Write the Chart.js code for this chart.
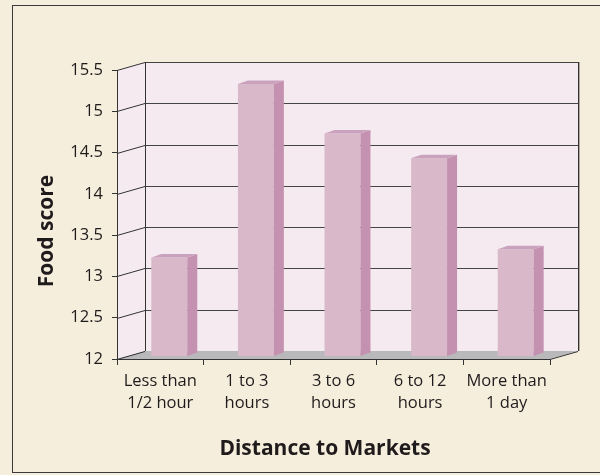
<!DOCTYPE html>
<html>
<head>
<meta charset="utf-8">
<script src="https://cdn.jsdelivr.net/npm/chart.js@4.4.1/dist/chart.umd.min.js"></script>
<style>
  body { margin: 0; background: #ffffff; }
  #wrap { width: 600px; height: 475px; }
</style>
</head>
<body>
<div id="wrap"><canvas id="chart" width="600" height="475"></canvas></div>
<script>
const categories = [
    ['Less than', '1/2 hour'],
    ['1 to 3', 'hours'],
    ['3 to 6', 'hours'],
    ['6 to 12', 'hours'],
    ['More than', '1 day']
];
const foodScores = [13.2, 15.3, 14.7, 14.4, 13.3];
const yMin = 12;
const yMax = 15.5;
const yStep = 0.5;

const xTitle = 'Distance to Markets';
const yTitle = 'Food score';

// depth of the 3d box and of the bars
const wallDx = 28, wallDy = -8;
const barShiftX = 9, barShiftY = -2.5;
const barDepthX = 10, barDepthY = -3.5;

const textColor = '#1f1b1c';
const fontFamily = '"Open Sans", "DejaVu Sans", sans-serif';

function poly(ctx, pts, fill) {
    ctx.beginPath();
    ctx.moveTo(pts[0][0], pts[0][1]);
    for (let i = 1; i < pts.length; i++) ctx.lineTo(pts[i][0], pts[i][1]);
    ctx.closePath();
    ctx.fillStyle = fill;
    ctx.fill();
}

function line(ctx, x1, y1, x2, y2, color) {
    ctx.beginPath();
    ctx.moveTo(x1, y1);
    ctx.lineTo(x2, y2);
    ctx.strokeStyle = color;
    ctx.lineWidth = 1;
    ctx.stroke();
}

const box3d = {
    id: 'box3d',
    beforeDraw(chart) {
        const ctx = chart.ctx;
        ctx.save();
        ctx.fillStyle = '#f6eedc';
        ctx.fillRect(0, 0, chart.width, chart.height);
        ctx.strokeStyle = '#3a3a3a';
        ctx.lineWidth = 1;
        ctx.strokeRect(12.5, 5.5, chart.width, 467);
        ctx.restore();
    },
    beforeDatasetsDraw(chart) {
        const ctx = chart.ctx;
        const a = chart.chartArea;
        const y = chart.scales.y;
        const L = a.left, R = a.right, T = a.top, B = a.bottom;
        ctx.save();
        // back wall and left wall
        poly(ctx, [[L + wallDx, T + wallDy], [R + wallDx, T + wallDy], [R + wallDx, B + wallDy], [L + wallDx, B + wallDy]], '#f4eaf0');
        poly(ctx, [[L, T], [L + wallDx, T + wallDy], [L + wallDx, B + wallDy], [L, B]], '#f4eaf0');
        // floor
        poly(ctx, [[L, B], [L + wallDx, B + wallDy], [R + wallDx, B + wallDy], [R, B]], '#b9b9bb');
        // grid lines
        for (let v = yMin + yStep; v <= yMax + 1e-9; v += yStep) {
            const py = Math.round(y.getPixelForValue(v)) + 0.5;
            line(ctx, L, py, L + wallDx, py + wallDy, '#333');
            line(ctx, L + wallDx, py + wallDy, R + wallDx, py + wallDy, '#444');
        }
        line(ctx, L, B + 0.5, L + wallDx, B + wallDy + 0.5, '#333');
        line(ctx, L + wallDx + 0.5, T + wallDy, L + wallDx + 0.5, B + wallDy, '#333');
        line(ctx, R + wallDx + 0.5, T + wallDy, R + wallDx + 0.5, B + wallDy, '#333');
        line(ctx, R + wallDx + 1.5, T + wallDy, R + wallDx + 1.5, B + wallDy, '#b0a8a0');
        line(ctx, R, B + 0.5, R + wallDx, B + wallDy + 0.5, '#333');
        line(ctx, L, B + 0.5, R, B + 0.5, '#333');
        line(ctx, L + 0.5, T, L + 0.5, B, '#333');
        ctx.restore();
        ctx.save();
        ctx.translate(barShiftX, barShiftY);
    },
    afterDatasetsDraw(chart) {
        const ctx = chart.ctx;
        ctx.restore();
        ctx.save();
        chart.getDatasetMeta(0).data.forEach(bar => {
            const p = bar.getProps(['x', 'y', 'base', 'width'], true);
            const l = p.x - p.width / 2 + barShiftX;
            const r = p.x + p.width / 2 + barShiftX;
            const t = p.y + barShiftY;
            const b = p.base + barShiftY;
            poly(ctx, [[r, t], [r + barDepthX, t + barDepthY], [r + barDepthX, b + barDepthY], [r, b]], '#c492b0');
            poly(ctx, [[l, t], [l + barDepthX, t + barDepthY], [r + barDepthX, t + barDepthY], [r, t]], '#cba2bd');
        });
        // axis titles
        ctx.fillStyle = textColor;
        ctx.font = 'bold 21px ' + fontFamily;
        ctx.textAlign = 'center';
        ctx.textBaseline = 'middle';
        ctx.fillText(xTitle, 325, 449);
        ctx.translate(47, 231);
        ctx.rotate(-Math.PI / 2);
        ctx.fillText(yTitle, 0, 0);
        ctx.restore();
    }
};

new Chart(document.getElementById('chart'), {
    type: 'bar',
    data: {
        labels: categories,
        datasets: [{
            data: foodScores,
            base: yMin,
            backgroundColor: '#d9b8ca',
            borderWidth: 0,
            categoryPercentage: 1,
            barPercentage: 0.415
        }]
    },
    options: {
        responsive: false,
        animation: false,
        layout: { padding: { left: 0, top: 70, right: 50, bottom: 0 } },
        plugins: { legend: { display: false }, tooltip: { enabled: false } },
        scales: {
            x: {
                offset: true,
                border: { display: false },
                grid: { offset: true, drawOnChartArea: false, drawTicks: true, tickLength: 6, color: '#333' },
                ticks: { color: textColor, padding: 5, maxRotation: 0, autoSkip: false,
                         font: { family: fontFamily, size: 16.5, lineHeight: 1.35 } },
                afterFit(scale) { scale.height = 116; }
            },
            y: {
                min: yMin,
                max: yMax,
                border: { display: false },
                grid: { drawOnChartArea: false, drawTicks: true, tickLength: 5, color: '#333' },
                ticks: { stepSize: yStep, color: textColor, padding: 9,
                         font: { family: fontFamily, size: 16.5 },
                         callback: v => String(v) },
                afterFit(scale) { scale.width = 117; }
            }
        }
    },
    plugins: [box3d]
});
</script>
</body>
</html>
